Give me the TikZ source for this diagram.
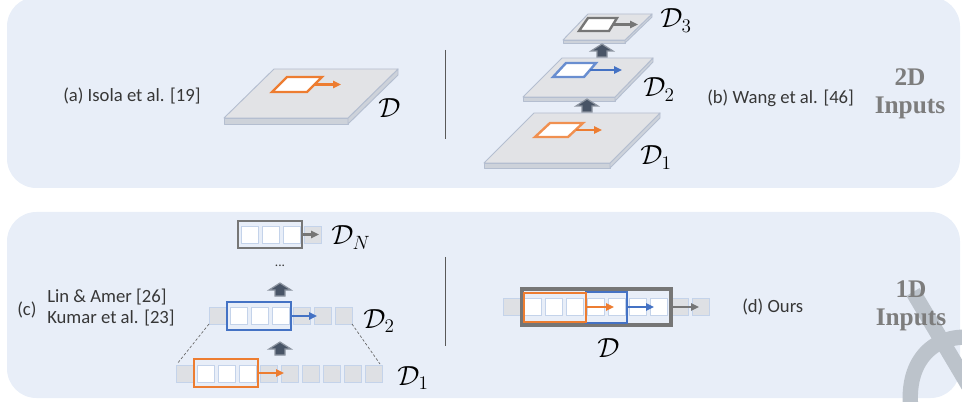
\documentclass[tikz,border=0pt]{standalone}
\usepackage{fontspec}
\setmainfont{Carlito}
\newfontfamily\inputsfont{Liberation Serif}
\usetikzlibrary{arrows.meta}
\definecolor{panel}{RGB}{232,238,248}
\definecolor{platetop}{RGB}{226,227,230}
\definecolor{plateside}{RGB}{205,210,218}
\definecolor{plateline}{RGB}{180,190,208}
\definecolor{myorange}{RGB}{237,125,49}
\definecolor{myblue}{RGB}{68,114,196}
\definecolor{mygray}{RGB}{118,118,118}
\definecolor{cellgray}{RGB}{222,224,228}
\definecolor{cellline}{RGB}{196,211,234}
\definecolor{txt}{RGB}{55,55,55}
\definecolor{arrowfill}{RGB}{72,84,102}
\definecolor{arrowline}{RGB}{140,148,160}
\definecolor{wmark}{RGB}{188,195,203}
\tikzset{
  lbl/.style={font=\fontsize{14}{17}\selectfont, text=txt, inner sep=0pt, anchor=west},
  mlbl/.style={font=\fontsize{20}{22}\selectfont, inner sep=0pt, anchor=base west},
  inlbl/.style={font=\inputsfont\bfseries\fontsize{19}{21}\selectfont, text=mygray!95, align=center, inner sep=0pt},
  cell/.style={fill=cellgray, draw=cellline, line width=0.7pt},
  wcell/.style={fill=white, draw=cellline, line width=0.7pt},
  ptop/.style={fill=platetop, draw=plateline, line width=0.7pt, line join=round},
  pside/.style={fill=plateside, draw=plateline, line width=0.7pt, line join=round},
  patch/.style={fill=white, line width=1.8pt, line join=miter},
  tiparrow/.style={line width=1.6pt, -{Triangle[length=6pt,width=5.5pt]}},
  win/.style={line width=1.9pt},
  sep/.style={draw=black!65, line width=0.6pt},
  upar/.pic={\draw[fill=arrowfill, draw=arrowline, line width=0.9pt, line join=miter]
     (0,0) -- (11,7) -- (5,7) -- (5,13) -- (-5,13) -- (-5,7) -- (-11,7) -- cycle;}
}
\begin{document}
\begin{tikzpicture}[x=0.75pt,y=-0.75pt]
\useasboundingbox (0,0) rectangle (962,402);
\clip (0,0) rectangle (962,402);
% panels
\fill[panel, rounded corners=22pt] (7,-3) rectangle (960,188);
\fill[panel, rounded corners=22pt] (7,212) rectangle (960,398);
% watermark
\draw[wmark, line width=11.5pt] (913,292) -- (980,405);
\draw[wmark, line width=11.5pt] (975,338) .. controls (935,332) and (905,360) .. (911,410);
% separators
\draw[sep] (445,50) -- (445,139);
\draw[sep] (445,257) -- (445,346);

% ---------- (a) ----------
\node[lbl] (ta) at (63,96) {(a) Isola et al. [19]};
\draw[pside] (224,118) -- (348,118) -- (348,124) -- (224,124) -- cycle;
\draw[pside] (398,69) -- (398,75) -- (348,124) -- (348,118) -- cycle;
\draw[ptop] (274,69) -- (398,69) -- (348,118) -- (224,118) -- cycle;
\draw[patch, draw=myorange] (287,77) -- (322,77) -- (307,92) -- (272,92) -- cycle;
\coordinate (pa) at (314.5,84.5);
\coordinate (pae) at (341,84.5);
\draw[tiparrow, myorange] (pa) -- (pae);
\node[mlbl] (Da) at (378,118) {$\mathcal{D}$};

% ---------- (b) ----------
% D1 plate
\draw[pside] (484,163) -- (610,163) -- (610,168) -- (484,168) -- cycle;
\draw[pside] (660,113) -- (660,118) -- (610,168) -- (610,163) -- cycle;
\draw[ptop] (534,113) -- (660,113) -- (610,163) -- (484,163) -- cycle;
\draw[patch, draw=myorange!85] (550,123) -- (583,123) -- (568,137) -- (535,137) -- cycle;
\coordinate (pb1) at (575.5,130);
\coordinate (pb1e) at (602,130);
\draw[tiparrow, myorange] (pb1) -- (pb1e);
% D2 plate
\draw[pside] (523,97) -- (615,97) -- (615,101) -- (523,101) -- cycle;
\draw[pside] (653,58) -- (653,62) -- (615,101) -- (615,97) -- cycle;
\draw[ptop] (562,58) -- (653,58) -- (615,97) -- (523,97) -- cycle;
\draw[patch, draw=myblue!80] (566,63) -- (596,63) -- (584,77) -- (553,77) -- cycle;
\coordinate (pb2) at (590,70);
\coordinate (pb2e) at (622,70);
\draw[tiparrow, myblue] (pb2) -- (pb2e);
% D3 plate
\draw[pside] (563,40) -- (625,40) -- (625,43) -- (563,43) -- cycle;
\draw[pside] (652,14) -- (652,17) -- (625,43) -- (625,40) -- cycle;
\draw[ptop] (588,14) -- (652,14) -- (625,40) -- (563,40) -- cycle;
\draw[patch, draw=mygray] (588,18) -- (617,18) -- (609,31) -- (579,31) -- cycle;
\coordinate (pb3) at (613,24.5);
\coordinate (pb3e) at (638,24.5);
\draw[tiparrow, mygray] (pb3) -- (pb3e);
% up arrows
\pic at (587,99) {upar};
\pic at (602,44) {upar};
\node[mlbl] (Db1) at (640,165) {$\mathcal{D}_1$};
\node[mlbl] (Db2) at (643,97) {$\mathcal{D}_2$};
\node[mlbl] (Db3) at (660,28) {$\mathcal{D}_3$};
\node[lbl] (tb) at (707,98) {(b) Wang et al. [46]};
\node[inlbl] (in2) at (910,94) {2D\\Inputs};

% ---------- (c) ----------
\node[lbl] (tc) at (17,310) {(c)};
\node[lbl] (tc1) at (47,297) {Lin \& Amer [26]};
\node[lbl] (tc2) at (47,318) {Kumar et al. [23]};
% D1 row
\foreach \i in {0,4,5,6,7,8,9} {\draw[cell] ({176+21*\i},365) rectangle ++(17,17);}
\foreach \i in {1,2,3} {\draw[wcell] ({176+21*\i},365) rectangle ++(17,17);}
\draw[win, myorange] (194,359) rectangle (258,387);
\coordinate (c1s) at (258,373);
\coordinate (c1e) at (284,373);
\draw[tiparrow, myorange] (c1s) -- (c1e);
% D2 row
\foreach \i in {0,4,5,6} {\draw[cell] ({209+21*\i},307) rectangle ++(17,17);}
\foreach \i in {1,2,3} {\draw[wcell] ({209+21*\i},307) rectangle ++(17,17);}
\draw[win, myblue] (227,302) rectangle (291,330);
\coordinate (c2s) at (291,316);
\coordinate (c2e) at (317,316);
\draw[tiparrow, myblue] (c2s) -- (c2e);
% DN row
\draw[cell] (304,226) rectangle ++(17,17);
\foreach \i in {0,1,2} {\draw[wcell] ({241+21*\i},226) rectangle ++(17,17);}
\draw[win, mygray] (238,221) rectangle (302,248);
\coordinate (cNs) at (302,234.5);
\coordinate (cNe) at (319,234.5);
\draw[tiparrow, mygray] (cNs) -- (cNe);
% dashed
\coordinate (d2l) at (209,324);
\coordinate (d1l) at (177,364);
\coordinate (d2r) at (352,324);
\coordinate (d1r) at (380,364);
\draw[black!60, dash pattern=on 2pt off 1.5pt, line width=0.5pt] (d2l) -- (d1l);
\draw[black!60, dash pattern=on 2pt off 1.5pt, line width=0.5pt] (d2r) -- (d1r);
\pic at (280,283) {upar};
\pic at (280,342) {upar};
\node[font=\fontsize{10}{12}\selectfont, text=txt, inner sep=0pt] (dots) at (280,266) {...};
\node[mlbl] (DN) at (331,245) {$\mathcal{D}_N$};
\node[mlbl] (Dc2) at (363,328) {$\mathcal{D}_2$};
\node[mlbl] (Dc1) at (397,385) {$\mathcal{D}_1$};

% ---------- (d) ----------
\foreach \i in {0,8,9} {\draw[cell] ({503+21*\i},298) rectangle ++(17,17);}
\foreach \i in {1,...,7} {\draw[wcell] ({503+21*\i},298) rectangle ++(17,17);}
\draw[line width=2.3pt, mygray] (522,289) rectangle (671,325);
\draw[win, myblue] (586,292) rectangle (627,323);
\draw[win, myorange] (524,293) rectangle (586,322);
\coordinate (o1) at (586,307);
\coordinate (o2) at (614,307);
\coordinate (b1) at (627,307);
\coordinate (b2) at (654,307);
\coordinate (g1) at (671,307);
\coordinate (g2) at (699,307);
\draw[tiparrow, myorange] (o1) -- (o2);
\draw[tiparrow, myblue] (b1) -- (b2);
\draw[tiparrow, mygray] (g1) -- (g2);
\node[mlbl] (Dd) at (597,357) {$\mathcal{D}$};
\node[lbl] (td) at (742,307) {(d) Ours};
\node[inlbl] (in1) at (911,306) {1D\\Inputs};
\end{tikzpicture}
\end{document}
